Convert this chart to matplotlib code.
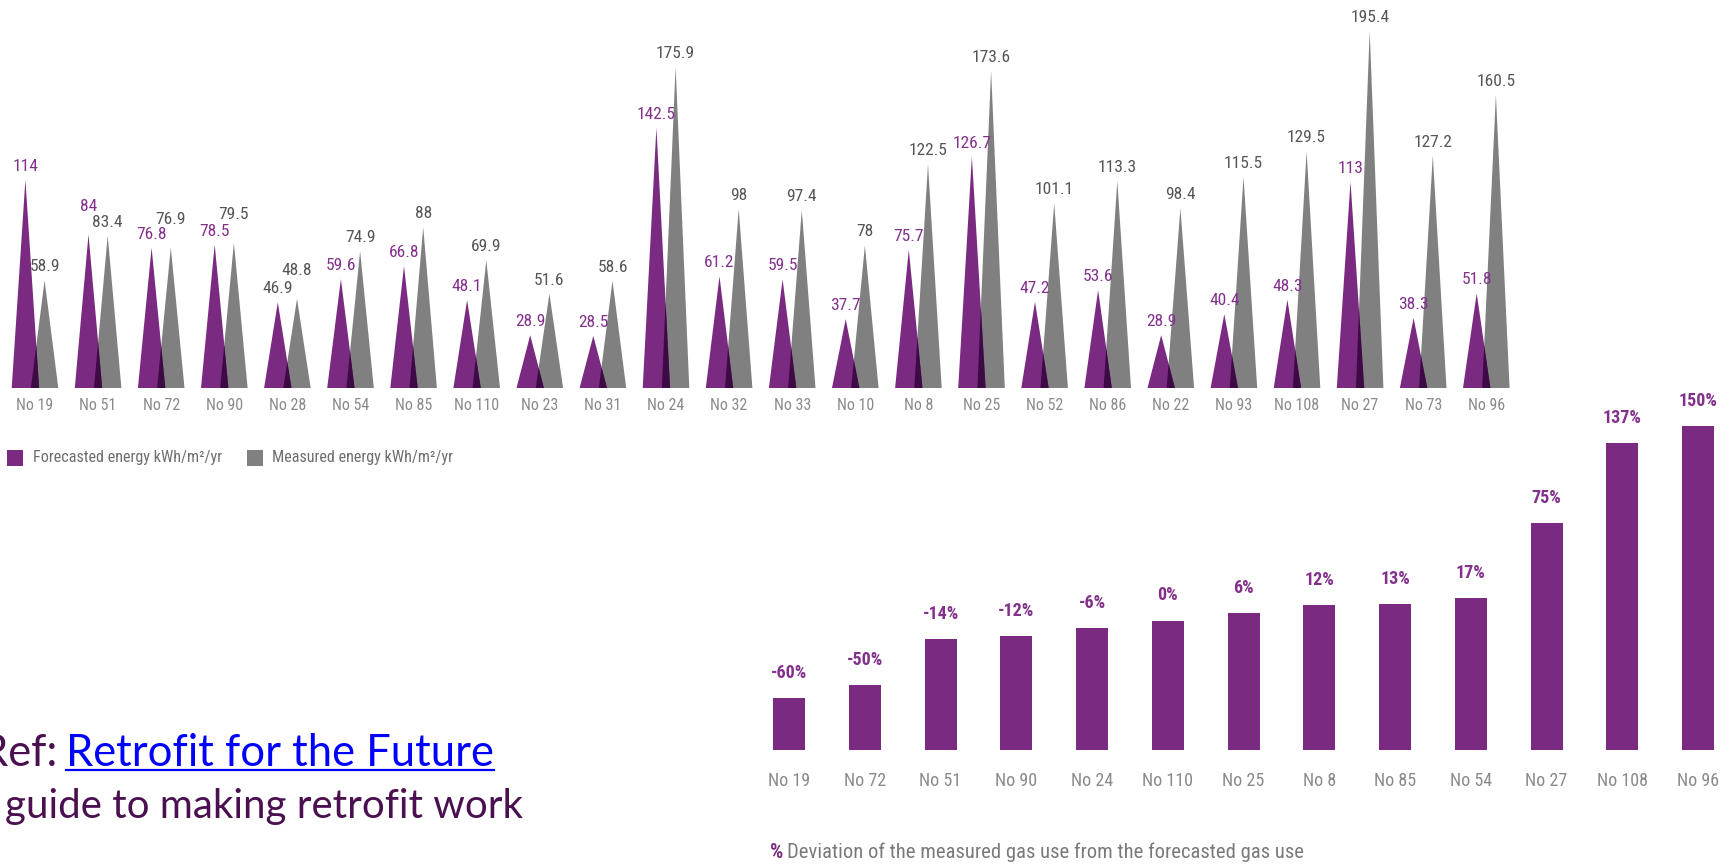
import numpy as np
import matplotlib.pyplot as plt
from matplotlib.patches import Polygon, Rectangle
from matplotlib.lines import Line2D

# top chart: forecasted vs measured energy
houses = ['No 19', 'No 51', 'No 72', 'No 90', 'No 28', 'No 54', 'No 85', 'No 110',
          'No 23', 'No 31', 'No 24', 'No 32', 'No 33', 'No 10', 'No 8', 'No 25',
          'No 52', 'No 86', 'No 22', 'No 93', 'No 108', 'No 27', 'No 73', 'No 96']
forecast = [114, 84, 76.8, 78.5, 46.9, 59.6, 66.8, 48.1, 28.9, 28.5, 142.5, 61.2,
            59.5, 37.7, 75.7, 126.7, 47.2, 53.6, 28.9, 40.4, 48.3, 113, 38.3, 51.8]
measured = [58.9, 83.4, 76.9, 79.5, 48.8, 74.9, 88, 69.9, 51.6, 58.6, 175.9, 98,
            97.4, 78, 122.5, 173.6, 101.1, 113.3, 98.4, 115.5, 129.5, 195.4, 127.2, 160.5]

# bottom chart: deviation of measured gas use
dev_houses = ['No 19', 'No 72', 'No 51', 'No 90', 'No 24', 'No 110', 'No 25',
              'No 8', 'No 85', 'No 54', 'No 27', 'No 108', 'No 96']
deviation = [-60, -50, -14, -12, -6, 0, 6, 12, 13, 17, 75, 137, 150]

W, H = 1734, 865
narrow = dict(family=['Roboto Condensed', 'Roboto'], fontstretch='condensed')
purple = '#7b2a82'
grey = '#808080'
dark = '#3d0a45'
lab_purple = '#83308c'
lab_grey = '#555555'
cat_grey = '#8a8a8a'

fig = plt.figure(figsize=(W / 100, H / 100), dpi=100)


def fx(x):
    return x / W


def fy(y):
    return 1 - y / H


# ---- top chart ----
step = 63.1
ax = fig.add_axes([0, fy(388), 1, 388 / H])
ax.set_xlim(-35 / step, (W - 35) / step)
ax.set_ylim(0, 388 / 1.827)
ax.axis('off')

half = 13.7 / step
off = 9.6 / step
for i, (f, m) in enumerate(zip(forecast, measured)):
    pl, pc, pr = i - off - half, i - off, i - off + half
    gl, gc, gr = i + off - half, i + off, i + off + half
    ax.add_patch(Polygon([(gl, 0), (gc, m), (gr, 0)], closed=True, fc=grey, lw=0))
    ax.add_patch(Polygon([(pl, 0), (pc, f), (pr, 0)], closed=True, fc=purple, lw=0))
    s1 = f / (pc - pr)
    s2 = m / (gc - gl)
    xc = (s2 * gl - s1 * pr) / (s2 - s1)
    yc = s2 * (xc - gl)
    ax.add_patch(Polygon([(gl, 0), (xc, yc), (pr, 0)], closed=True, fc=dark, lw=0))

    close = abs(f - m) < 6
    fcol = lab_grey if houses[i] == 'No 28' else lab_purple
    ax.annotate(f'{f:g}', (pc, f), xytext=(0, 6 + (15 if close and f > m else 0)),
                textcoords='offset pixels', ha='center', va='bottom',
                color=fcol, fontsize=12.5, **narrow)
    ax.annotate(f'{m:g}', (gc, m), xytext=(0, 6 + (15 if close and m > f else 0)),
                textcoords='offset pixels', ha='center', va='bottom',
                color=lab_grey, fontsize=12.5, **narrow)
    ax.annotate(houses[i], (i, 0), xytext=(0, -18), textcoords='offset pixels',
                ha='center', va='center', color=cat_grey, fontsize=11.5, **narrow)

# top legend
fig.add_artist(Rectangle((fx(7), fy(466)), 16 / W, 16 / H, fc=purple, lw=0,
                         transform=fig.transFigure))
fig.text(fx(33), fy(458), 'Forecasted energy kWh/m\u00b2/yr', ha='left', va='center',
         color='#6e6e6e', fontsize=11.6, **narrow)
fig.add_artist(Rectangle((fx(247), fy(466)), 16 / W, 16 / H, fc=grey, lw=0,
                         transform=fig.transFigure))
fig.text(fx(272), fy(458), 'Measured energy kWh/m\u00b2/yr', ha='left', va='center',
         color='#6e6e6e', fontsize=11.6, **narrow)

# ---- bottom chart ----
step2 = 75.75
ax2 = fig.add_axes([fx(740), fy(750), fx(W) - fx(740), 370 / H])
ax2.set_xlim(-49 / step2, (W - 789) / step2)
ax2.set_ylim(-100, -100 + 370 / 1.295)
ax2.axis('off')
x2 = np.arange(len(deviation))
ax2.bar(x2, np.array(deviation) + 100, bottom=-100, width=32 / step2, color=purple)
for i, d in enumerate(deviation):
    ax2.annotate(f'{d}%', (i, d), xytext=(0, 16), textcoords='offset pixels',
                 ha='center', va='bottom', color=lab_purple, fontsize=13,
                 fontweight='bold', **narrow)
    ax2.annotate(dev_houses[i], (i, -100), xytext=(0, -31), textcoords='offset pixels',
                 ha='center', va='center', color=cat_grey, fontsize=13, **narrow)

fig.text(fx(770), fy(852), '%', ha='left', va='center', color=purple,
         fontsize=15, fontweight='bold', **narrow)
fig.text(fx(787), fy(852), 'Deviation of the measured gas use from the forecasted gas use',
         ha='left', va='center', color='#7a7a7a', fontsize=14.9, **narrow)

# ---- reference text ----
ref_font = ['Lato', 'DejaVu Sans']
link_x = 66
fig.text(fx(link_x - 9), fy(766), 'Ref:', ha='right', va='baseline', color='#4a1050',
         fontsize=31.4, family=ref_font)
link = fig.text(fx(link_x), fy(766), 'Retrofit for the Future', ha='left', va='baseline',
                color='#0000ff', fontsize=31.4, family=ref_font)
fig.text(fx(-4), fy(818), 'A', ha='right', va='baseline', color='#4a1050',
         fontsize=29, family=ref_font)
fig.text(fx(5), fy(818), 'guide to making retrofit work', ha='left', va='baseline',
         color='#4a1050', fontsize=29, family=ref_font)

fig.canvas.draw()
bb = link.get_window_extent()
fig.add_artist(Line2D([bb.x0 / W, bb.x1 / W], [fy(770), fy(770)], color='#0000ff',
                      lw=1.6, transform=fig.transFigure))

fig.savefig('out.png', dpi=100)
